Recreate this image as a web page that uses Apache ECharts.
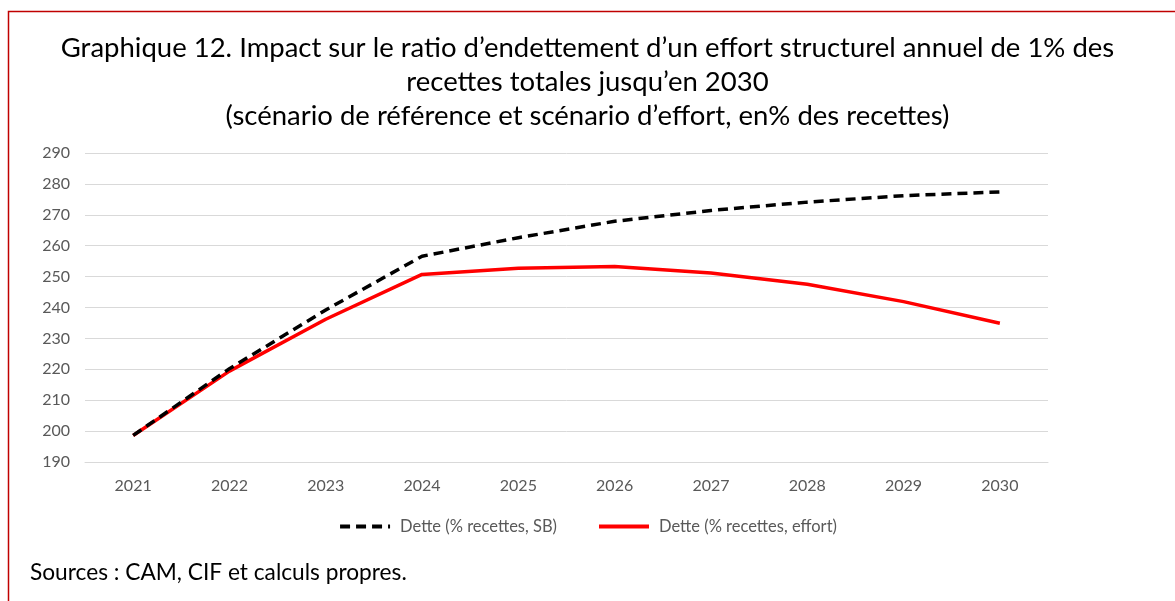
<!DOCTYPE html>
<html>
<head>
<meta charset="utf-8">
<style>
  html, body { margin: 0; padding: 0; background: #fff; }
  #chart { width: 1175px; height: 601px; }
</style>
<script src="https://cdn.jsdelivr.net/npm/echarts@6/dist/echarts.min.js"></script>
</head>
<body>
<div id="chart"></div>
<script>
// données
const years = ["2021", "2022", "2023", "2024", "2025", "2026", "2027", "2028", "2029", "2030"];
const detteSB = [198.6, 220.2, 239.2, 256.6, 262.6, 267.9, 271.4, 274.1, 276.2, 277.4];
const detteEffort = [198.6, 219.4, 236.2, 250.7, 252.7, 253.3, 251.2, 247.5, 241.9, 234.9];
const nameSB = "Dette (% recettes, SB)";
const nameEffort = "Dette (% recettes, effort)";

const chart = echarts.init(document.getElementById("chart"));
const font = "Lato, 'Open Sans', sans-serif";

const option = {
  animation: false,
  backgroundColor: "#fff",
  title: {
    text: "Graphique 12. Impact sur le ratio d’endettement d’un effort structurel annuel de 1% des\nrecettes totales jusqu’en 2030\n(scénario de référence et scénario d’effort, en% des recettes)",
    left: "center",
    top: 26,
    textStyle: {
      fontFamily: font,
      fontSize: 27.5,
      fontWeight: "normal",
      color: "#000",
      lineHeight: 34,
    },
  },
  legend: {
    top: 513,
    left: "center",
    itemWidth: 50,
    itemHeight: 14,
    itemGap: 40,
    itemStyle: { opacity: 0 },
    lineStyle: { width: 4 },
    textStyle: { fontFamily: font, fontSize: 16.5, color: "#595959", padding: [0, 0, 0, 5] },
    data: [nameSB, nameEffort],
  },
  grid: { left: 85, right: 127, top: 153, bottom: 139 },
  xAxis: {
    type: "category",
    data: years,
    boundaryGap: true,
    axisLine: { lineStyle: { color: "#d9d9d9" } },
    axisTick: { show: false },
    axisLabel: { fontFamily: font, fontSize: 16, color: "#595959", margin: 16 },
  },
  yAxis: {
    type: "value",
    min: 190,
    max: 290,
    interval: 10,
    axisLine: { show: false },
    axisTick: { show: false },
    axisLabel: { fontFamily: font, fontSize: 16, color: "#595959", margin: 15 },
    splitLine: { lineStyle: { color: "#d9d9d9", width: 1 } },
  },
  series: [
    {
      name: nameSB,
      type: "line",
      data: detteSB,
      symbol: "none",
      lineStyle: { color: "#000", width: 3.5, type: [10, 6] },
      itemStyle: { color: "#000" },
      z: 3,
    },
    {
      name: nameEffort,
      type: "line",
      data: detteEffort,
      symbol: "none",
      lineStyle: { color: "#ff0000", width: 3.5 },
      itemStyle: { color: "#ff0000" },
      z: 2,
    },
  ],
  graphic: [
    {
      type: "rect",
      shape: { x: 8.5, y: 11.5, width: 1200, height: 700 },
      style: { fill: null, stroke: "#c00000", lineWidth: 1.5 },
      silent: true,
    },
    {
      type: "text",
      left: 30,
      top: 561,
      style: {
        text: "Sources : CAM, CIF et calculs propres.",
        fontFamily: font,
        fontSize: 22.7,
        fill: "#000",
      },
    },
  ],
};

chart.setOption(option);
</script>
</body>
</html>
